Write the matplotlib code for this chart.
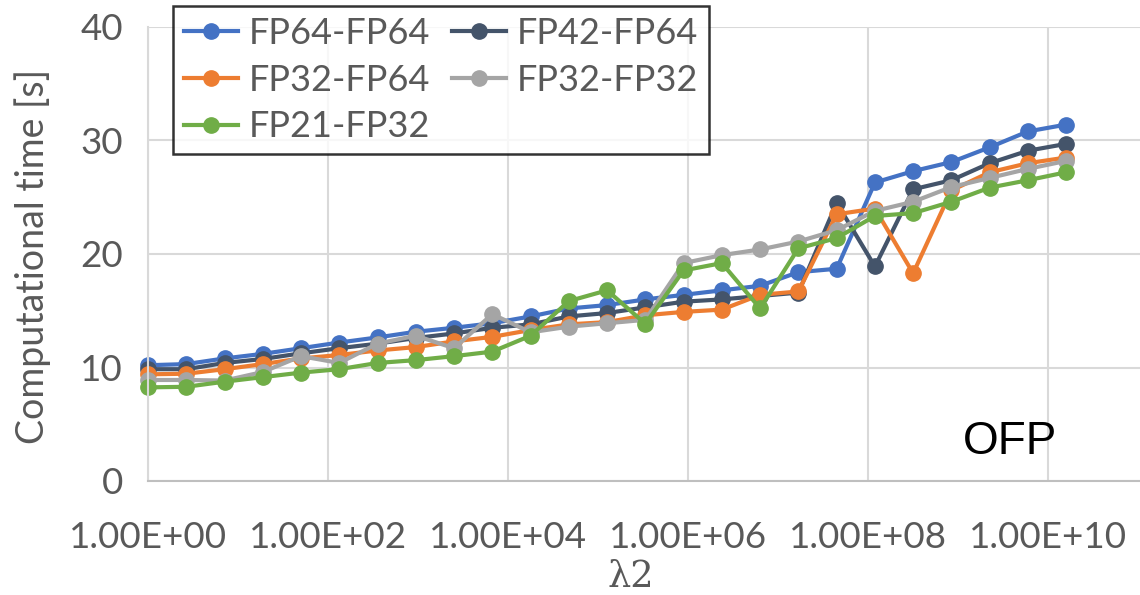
import numpy as np
import matplotlib
matplotlib.use("Agg")
import matplotlib.pyplot as plt
from matplotlib.ticker import FixedLocator, NullLocator

plt.rcParams['font.family'] = ['Lato', 'DejaVu Sans']

# lambda2 values (log spaced)
lam2 = [1.0, 2.66, 7.08, 18.8, 50.1, 133.0, 355.0, 944.0, 2.51e3, 6.68e3,
        1.78e4, 4.73e4, 1.26e5, 3.35e5, 8.91e5, 2.37e6, 6.31e6, 1.68e7,
        4.47e7, 1.19e8, 3.16e8, 8.41e8, 2.24e9, 5.96e9, 1.58e10]

fp64_fp64 = [10.2, 10.3, 10.8, 11.2, 11.7, 12.2, 12.65, 13.15, 13.5, 13.9,
             14.5, 15.2, 15.5, 16.0, 16.4, 16.8, 17.2, 18.4, 18.7, 26.3,
             27.3, 28.1, 29.4, 30.8, 31.4]
fp42_fp64 = [9.85, 9.85, 10.4, 10.75, 11.25, 11.7, 12.1, 12.6, 13.0, 13.5,
             13.8, 14.5, 14.8, 15.3, 15.8, 16.0, 16.3, 16.6, 24.5, 18.9,
             25.7, 26.5, 28.0, 29.1, 29.7]
fp32_fp64 = [9.4, 9.45, 9.85, 10.3, 10.8, 11.1, 11.5, 11.8, 12.3, 12.7,
             13.3, 13.8, 14.0, 14.6, 14.9, 15.1, 16.4, 16.7, 23.5, 24.0,
             18.3, 25.6, 27.2, 28.0, 28.5]
fp32_fp32 = [8.9, 8.9, 8.85, 9.6, 11.0, 10.4, 12.1, 12.8, 11.7, 14.7,
             13.1, 13.6, 13.9, 14.2, 19.2, 19.9, 20.4, 21.1, 22.1, 23.8,
             24.6, 25.9, 26.7, 27.5, 28.2]
fp21_fp32 = [8.25, 8.3, 8.75, 9.15, 9.55, 9.85, 10.4, 10.65, 11.0, 11.4,
             12.8, 15.85, 16.8, 13.85, 18.55, 19.2, 15.2, 20.5, 21.4, 23.35,
             23.6, 24.6, 25.85, 26.5, 27.2]

xticks = [1e0, 1e2, 1e4, 1e6, 1e8, 1e10]
xticklabels = ['1.00E+00', '1.00E+02', '1.00E+04', '1.00E+06', '1.00E+08', '1.00E+10']

fig = plt.figure(figsize=(11.4, 5.95), dpi=100)
ax = fig.add_axes([148/1140, 114/595, 992/1140, 454/595])

series = [('FP64-FP64', fp64_fp64, '#4472C4'),
          ('FP42-FP64', fp42_fp64, '#44546A'),
          ('FP32-FP64', fp32_fp64, '#ED7D31'),
          ('FP32-FP32', fp32_fp32, '#A5A5A5'),
          ('FP21-FP32', fp21_fp32, '#70AD47')]

lines = {}
for name, vals, col in series:
    l, = ax.plot(lam2, vals, color=col, lw=3, marker='o', ms=11,
                 label=name, clip_on=False)
    lines[name] = l

ax.set_xscale('log')
ax.set_xlim(1, 10**11.02)
ax.set_ylim(0, 40)
ax.xaxis.set_major_locator(FixedLocator(xticks))
ax.xaxis.set_minor_locator(NullLocator())
ax.set_xticklabels(xticklabels)
ax.set_yticks([0, 10, 20, 30, 40])
ax.tick_params(axis='both', length=0, labelsize=26.5, colors='#595959')
ax.tick_params(axis='x', pad=29)
ax.tick_params(axis='y', pad=18)
ax.grid(True, color='#D9D9D9', lw=1.5)
ax.set_axisbelow(True)
for s in ['top', 'right']:
    ax.spines[s].set_visible(False)
ax.spines['bottom'].set_color('#BFBFBF')
ax.spines['left'].set_color('#D9D9D9')
ax.spines['bottom'].set_linewidth(1.5)
ax.spines['left'].set_linewidth(1.5)

ax.text(10**9.58, 3.4, 'OFP', fontsize=33, family='Liberation Sans',
        ha='center', va='center', color='black')

fig.text(631/1140, 1 - 577/595, 'λ2', fontsize=26.5, color='#595959',
         ha='center', va='center', family=['DejaVu Serif'])
fig.text(33/1140, 1 - 256/595, 'Computational time [s]', fontsize=27,
         color='#595959', rotation=90, ha='center', va='center')

order = ['FP64-FP64', 'FP32-FP64', 'FP21-FP32', 'FP42-FP64', 'FP32-FP32']
leg = fig.legend([lines[n] for n in order], order, ncol=2,
                 loc='upper left', bbox_to_anchor=(173/1140, 1 - 6/595),
                 fontsize=26, frameon=True, fancybox=False,
                 handlelength=1.5, handletextpad=0.3, columnspacing=0.6,
                 labelspacing=0.38, borderpad=0.3, borderaxespad=0)
leg.get_frame().set_edgecolor('black')
leg.get_frame().set_linewidth(1.8)
for t in leg.get_texts():
    t.set_color('#595959')

fig.savefig('out.png', dpi=100)
